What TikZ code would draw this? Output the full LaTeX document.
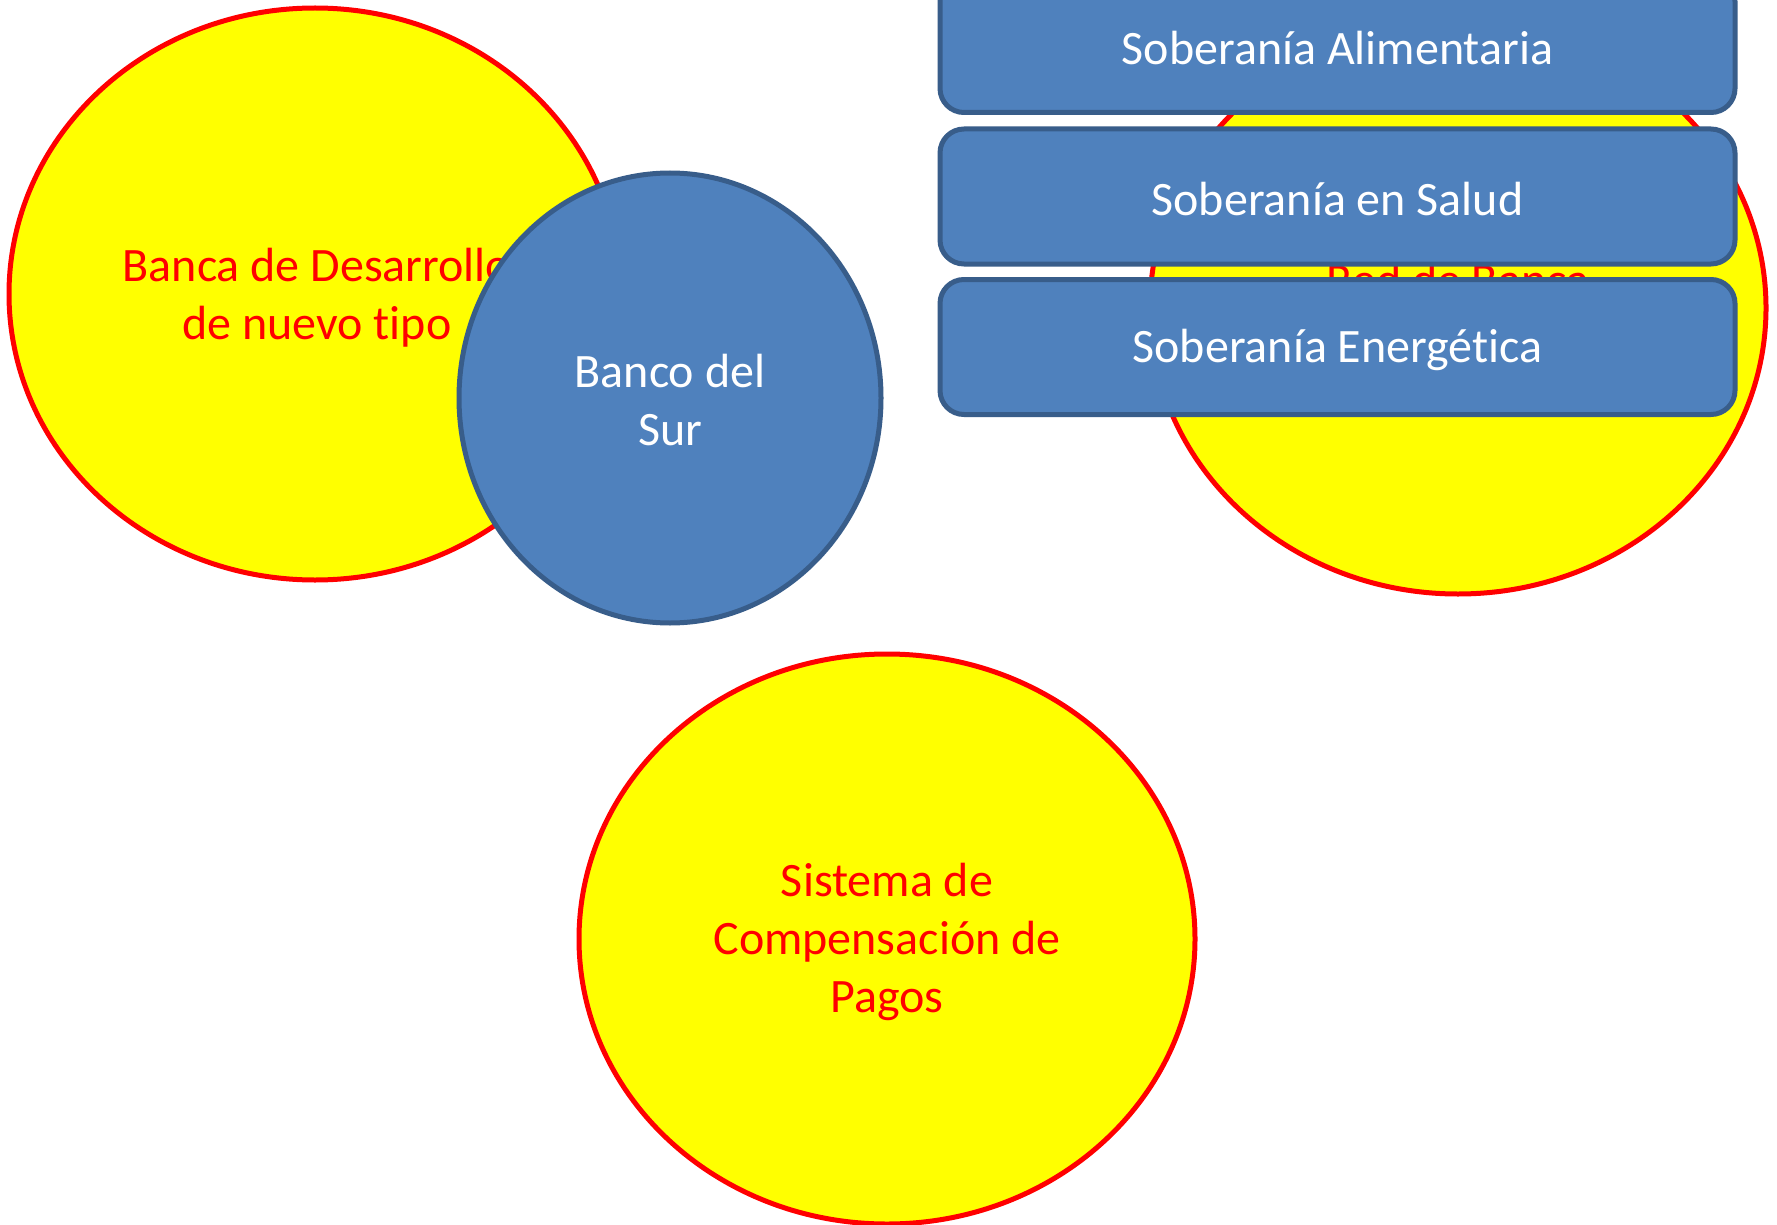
\documentclass[tikz,border=0pt]{standalone}
\usepackage{fontspec}
\setmainfont{Carlito}[Ligatures=NoCommon]
\usetikzlibrary{shapes.geometric}
\definecolor{ylw}{HTML}{FFFF00}
\definecolor{rd}{HTML}{FF0000}
\definecolor{bl}{HTML}{4F81BD}
\definecolor{bldk}{HTML}{385D8A}
\begin{document}
\begin{tikzpicture}[x=1pt,y=-1pt,
  yell/.style={ellipse,draw=rd,fill=ylw,line width=5pt,inner sep=0pt,text=rd,align=center},
  blu/.style={ellipse,draw=bldk,fill=bl,line width=5pt,inner sep=0pt,text=white,align=center},
  sob/.style={rectangle,rounded corners=24pt,draw=bldk,fill=bl,line width=5pt,text=white,minimum width=795pt,minimum height=135pt,inner sep=0pt},
  txt/.style={font=\fontsize{48}{58}\selectfont}]
\useasboundingbox (0,0) rectangle (1777,1225);
\fill[white] (0,0) rectangle (1777,1225);
\node[yell,minimum width=612pt,minimum height=572pt] (bd) at (315,294) {};
\node[txt,text=rd,align=center] (bdt) at (317,298) {Banca de Desarrollo\\de nuevo tipo};
\node[blu,minimum width=422pt,minimum height=450pt] (bs) at (670,398) {};
\node[txt,text=white,align=center] (bst) at (670,400) {Banco del\\Sur};
\node[yell,minimum width=616pt,minimum height=572pt] (rb) at (1458,308) {};
\node[txt,text=rd] (rbt) at (1458,280) {Red de Banca};
\node[sob] (s1) at (1337.5,45) {};
\node[txt,text=white] (s1t) at (1337.5,48) {Soberanía Alimentaria};
\node[sob] (s2) at (1337.5,196.5) {};
\node[txt,text=white] (s2t) at (1337.5,199) {Soberanía en Salud};
\node[sob] (s3) at (1337.5,347) {};
\node[txt,text=white] (s3t) at (1337.5,350) {Soberanía Energética};
\node[yell,minimum width=616pt,minimum height=570pt] (sc) at (887,939) {};
\node[txt,text=rd,align=center] (sct) at (887,942) {Sistema de\\Compensación de\\Pagos};
\end{tikzpicture}
\end{document}
